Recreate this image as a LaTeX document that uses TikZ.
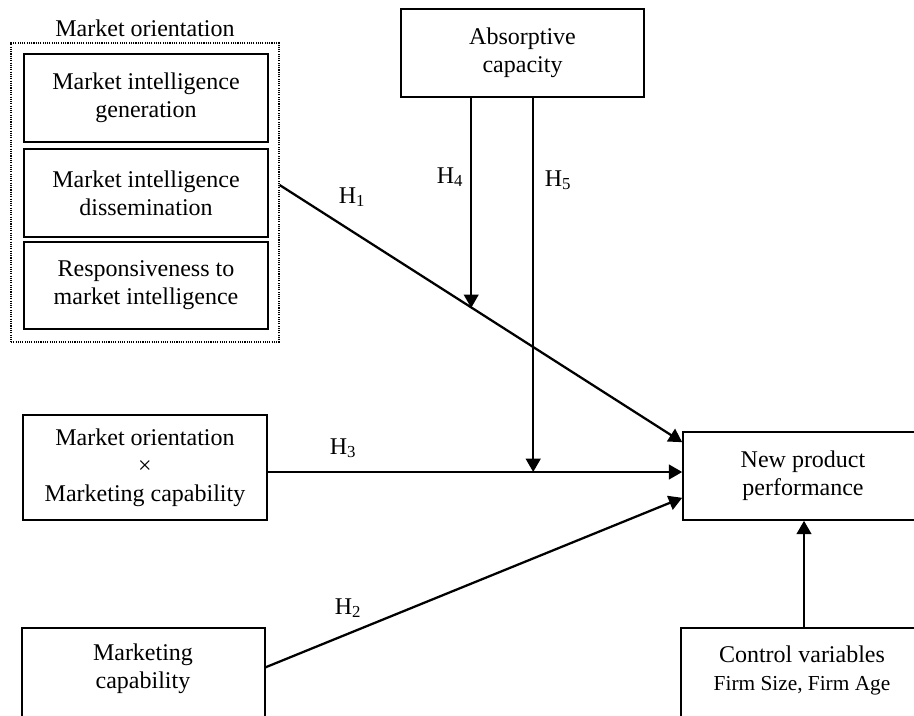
\documentclass[tikz,border=0pt]{standalone}
\usepackage{fontspec}
\setmainfont{Liberation Serif}
\usetikzlibrary{arrows.meta,calc,fit}
\begin{document}
\begin{tikzpicture}[x=0.75pt,y=-0.75pt,
  box/.style={draw, line width=1.2pt, inner sep=0pt},
  dotbox/.style={draw, line width=0.9pt, dash pattern=on 0.8pt off 0.9pt, inner sep=0pt},
  txt/.style={font=\fontsize{18}{21}\selectfont, align=center, inner sep=0pt},
  arr/.style={line width=1.7pt, -{Triangle[length=10pt,width=11pt]}}]
\useasboundingbox (0,0) rectangle (914,715);
\clip (0,0) rectangle (914,715);

% market orientation group
\node[txt] (molab) at (145,28) {Market orientation};
\node[dotbox, fit={(11,43)(279,342)}] (mo) {};
\node[box, fit={(24,54)(268,142)}] (mig) {};
\node[txt] (migt) at (mig.center) {Market intelligence\\generation};
\node[box, fit={(24,149)(268,237)}] (mid) {};
\node[txt] (midt) at (mid.center) {Market intelligence\\dissemination};
\node[box, fit={(24,242)(268,329)}] (resp) {};
\node[txt] (respt) at (resp.center) {Responsiveness to\\market intelligence};

% other boxes
\node[box, fit={(401,9)(644,97)}] (abs) {};
\node[txt] (abst) at (abs.center) {Absorptive\\capacity};
\node[box, fit={(23,415)(267,520)}] (moxmc) {};
\node[txt] (moxmct) at (moxmc.center) {Market orientation\\×\\Marketing capability};
\node[box, fit={(683,432)(923,520)}] (npp) {};
\node[txt] (nppt) at (npp.center) {New product\\performance};
\node[box, fit={(22,628)(265,770)}] (mc) {};
\node[txt] (mctxt) at (143,669) {Marketing\\capability};
\node[box, fit={(681,628)(927,770)}] (ctrl) {};
\node[txt] (ctrltxt) at (802,670) {Control variables\\{\fontsize{16}{21}\selectfont Firm Size, Firm Age}};

% connectors
\coordinate (h1s) at ($(mo.east)+(0,-7.5)$);
\coordinate (h1e) at ($(npp.north west)+(0,11)$);
\draw[arr] (h1s) -- (h1e);

\coordinate (h3s) at ($(moxmc.east)+(0,4.5)$);
\draw[arr] (h3s) -- (h3s -| npp.west);

\coordinate (h2s) at ($(mc.north east)+(0,40)$);
\coordinate (h2e) at ($(npp.south west)+(0,-23)$);
\draw[arr] (h2s) -- (h2e);

\coordinate (h4s) at ($(abs.south west)+(71,0)$);
\coordinate (h4e) at ($(h1s)!0.4777!(h1e)$);
\draw[arr] (h4s) -- (h4s |- h4e);

\coordinate (h5s) at ($(abs.south west)+(133,0)$);
\draw[arr] (h5s) -- (h5s |- h3s);

\draw[arr] (ctrl.north) -- (ctrl.north |- npp.south);

% labels
\node[txt] (l1) at (352,197) {H\textsubscript{1}};
\node[txt] (l2) at (348,608) {H\textsubscript{2}};
\node[txt] (l3) at (343,448) {H\textsubscript{3}};
\node[txt] (l4) at (450,177) {H\textsubscript{4}};
\node[txt] (l5) at (558,180) {H\textsubscript{5}};
\end{tikzpicture}
\end{document}
